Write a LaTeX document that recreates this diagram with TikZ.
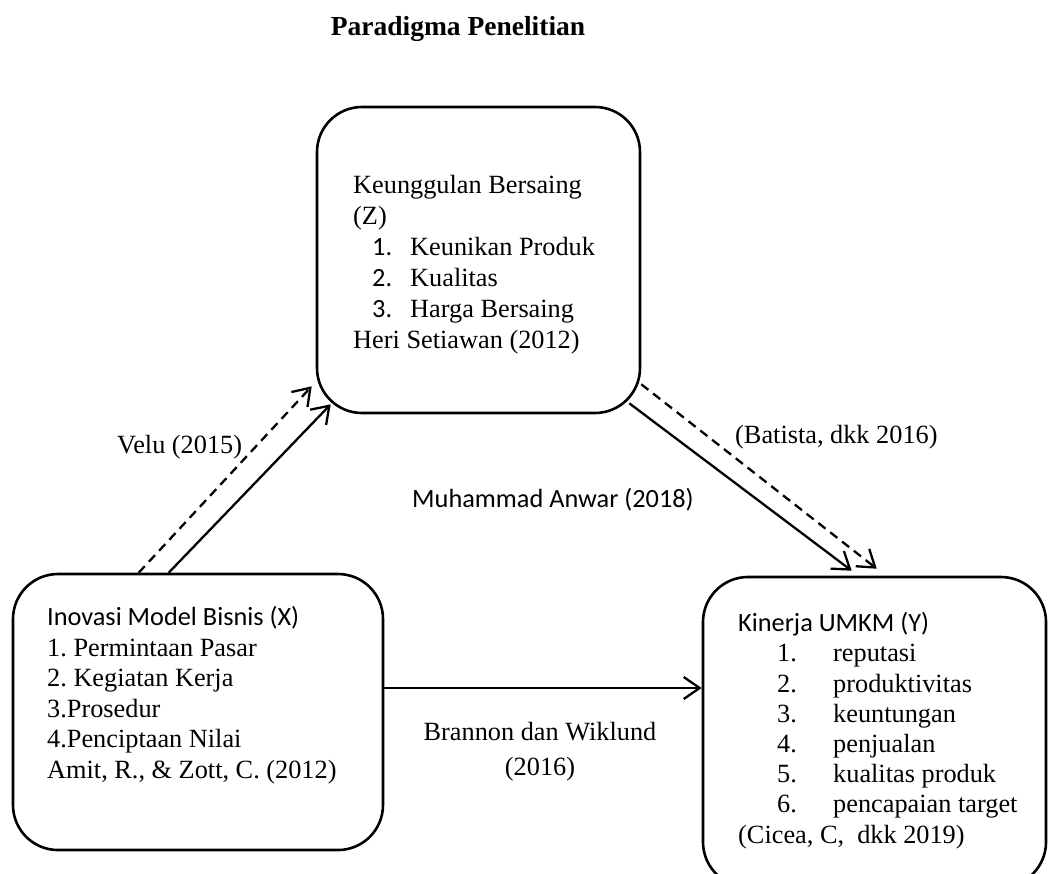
\documentclass[tikz,border=0pt]{standalone}
\usepackage{fontspec}
\setmainfont{Liberation Serif}
\newfontfamily\calibri{Carlito}
\usepackage{tikz}
\usetikzlibrary{calc,arrows.meta}
\frenchspacing
\definecolor{ink}{HTML}{000000}
\tikzset{
  paraBox/.style={draw=ink, line width=2.6pt, rounded corners=45pt, inner sep=0pt},
  paraText/.style={text=ink, font=\fontsize{26.3}{30.5}\selectfont, align=left, inner sep=0pt, anchor=base west},
  paraLabel/.style={text=ink, font=\fontsize{26.3}{35}\selectfont, inner sep=0pt},
  paraArrow/.style={draw=ink, line width=2.3pt, -{Straight Barb[length=16pt, width=22pt]}},
  paraDashed/.style={paraArrow, dash pattern=on 9pt off 6pt}
}

\begin{document}
\begin{tikzpicture}[x=1pt, y=-1pt]
  \useasboundingbox (0,0) rectangle (1048,873);

  \node[paraLabel, font=\bfseries\fontsize{27.5}{33}\selectfont, anchor=base] (judul) at (458,35) {Paradigma Penelitian};

  % kotak variabel
  \node[paraBox, minimum width=323pt, minimum height=306pt] (zbox) at (478.5,260) {};
  \node[paraBox, minimum width=370pt, minimum height=276pt] (xbox) at (198,712) {};
  \node[paraBox, minimum width=343pt, minimum height=310pt] (ybox) at (874.5,732) {};

  % teks di dalam kotak (anchor pada baris terakhir)
  \node[paraText, font=\fontsize{26.3}{31}\selectfont] (ztext) at (353,348) {Keunggulan Bersaing\\
    (Z)\\
    \hspace*{19pt}\makebox[38pt][l]{\calibri 1.}Keunikan Produk\\
    \hspace*{19pt}\makebox[38pt][l]{\calibri 2.}Kualitas\\
    \hspace*{19pt}\makebox[38pt][l]{\calibri 3.}Harga Bersaing\\
    Heri Setiawan (2012)};

  \node[paraText] (xtext) at (47,778) {{\calibri Inovasi Model Bisnis (X)}\\
    1. Permintaan Pasar\\
    2. Kegiatan Kerja\\
    3.Prosedur\\
    4.Penciptaan Nilai\\
    Amit, R., \& Zott, C. (2012)};

  \node[paraText, font=\fontsize{26.3}{30.2}\selectfont] (ytext) at (738,843) {{\calibri Kinerja UMKM (Y)}\\
    \hspace*{39pt}\makebox[56pt][l]{1.}reputasi\\
    \hspace*{39pt}\makebox[56pt][l]{2.}produktivitas\\
    \hspace*{39pt}\makebox[56pt][l]{3.}keuntungan\\
    \hspace*{39pt}\makebox[56pt][l]{4.}penjualan\\
    \hspace*{39pt}\makebox[56pt][l]{5.}kualitas produk\\
    \hspace*{39pt}\makebox[56pt][l]{6.}pencapaian target\\
    (Cicea, C,\ \ dkk 2019)};

  % hubungan antar variabel
  \draw[paraDashed] ($(xbox.north west)+(127,0)$) -- ($(zbox.south west)+(-4,-28)$);
  \draw[paraArrow] ($(xbox.north west)+(157,0)$) -- ($(zbox.south west)+(15,-10)$);
  \draw[paraArrow] ($(zbox.south east)+(-12,-11)$) -- ($(ybox.north west)+(150,-5)$);
  \draw[paraDashed] ($(zbox.south east)+(0,-30)$) -- ($(ybox.north west)+(175,-7)$);
  \draw[paraArrow] ($(xbox.east)+(0,-24)$) -- ($(ybox.west)+(0,-44)$);

  \node[paraLabel, anchor=base west] (velu) at (117,453) {Velu (2015)};
  \node[paraLabel, anchor=base west] (batista) at (735,443) {(Batista, dkk 2016)};
  \node[paraLabel, anchor=base west, font=\calibri\fontsize{26.3}{35}\selectfont] (anwar) at (412,507) {Muhammad Anwar (2018)};
  \node[paraLabel, anchor=base, align=center] (brannon) at (540,775) {Brannon dan Wiklund\\(2016)};
\end{tikzpicture}
\end{document}
